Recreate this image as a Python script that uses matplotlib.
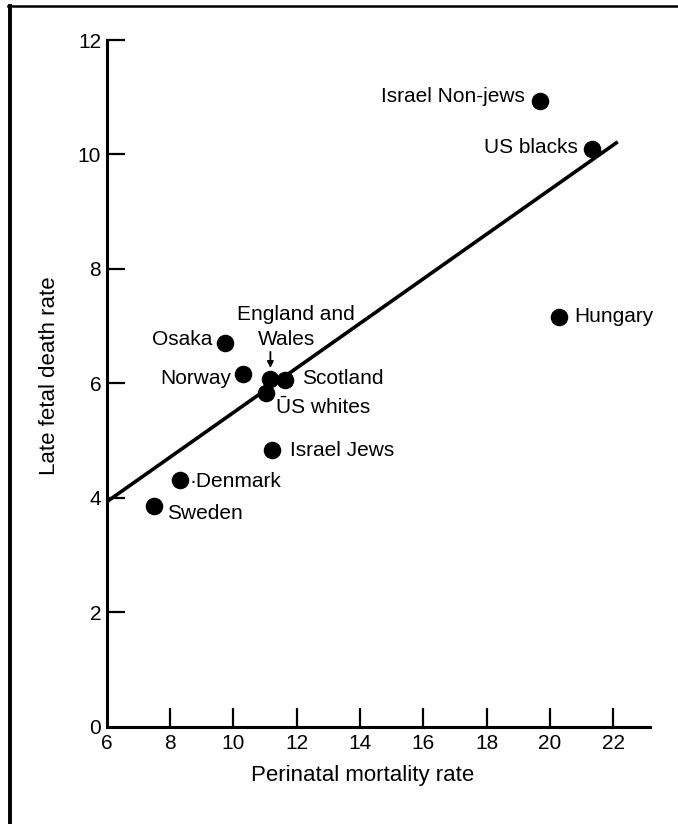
import matplotlib
matplotlib.use("Agg")
import matplotlib.pyplot as plt
from matplotlib.lines import Line2D

# ---- data ----
countries = ["Israel Non-jews", "US blacks", "Hungary", "Osaka", "Norway",
             "England and Wales", "Scotland", "US whites", "Israel Jews",
             "Denmark", "Sweden"]
perinatal = [19.68, 21.32, 20.27, 9.75, 10.30, 11.17, 11.64, 11.02, 11.23, 8.32, 7.50]
late_fetal = [10.94, 10.10, 7.16, 6.71, 6.17, 6.08, 6.06, 5.84, 4.83, 4.31, 3.86]

fit_x = [6.0, 22.14]
fit_y = [3.93, 10.22]

x_ticks = [6, 8, 10, 12, 14, 16, 18, 20, 22]
y_ticks = [0, 2, 4, 6, 8, 10, 12]

# ---- label layout ----
label_text = ["Israel Non-jews", "US blacks", "Hungary", "Osaka", "Norway",
              "England and", "Wales", "Scotland", "\u016aS whites", "Israel Jews",
              "\u00b7Denmark", "Sweden"]
label_x = [19.22, 20.87, 20.77, 9.34, 9.92, 11.99, 11.67, 12.17, 11.35, 11.79, 8.62, 7.90]
label_y = [11.01, 10.12, 7.16, 6.77, 6.08, 7.20, 6.77, 6.08, 5.57, 4.83, 4.29, 3.72]
label_ha = ["right", "right", "left", "right", "right", "center", "center",
            "left", "left", "left", "left", "left"]

plt.rcParams['font.family'] = ['Liberation Sans', 'DejaVu Sans']

W, H = 678, 824
fig = plt.figure(figsize=(W / 100, H / 100), dpi=100)
fig.patch.set_facecolor("white")

# frame lines (top and left)
fig.add_artist(Line2D([8 / W, 1.0], [1 - 6 / H, 1 - 6 / H], color="black", lw=1.8,
                      transform=fig.transFigure))
fig.add_artist(Line2D([9.5 / W, 9.5 / W], [0, 1 - 6 / H], color="black", lw=2.8,
                      transform=fig.transFigure))

left, right = 106.7 / W, 649.7 / W
bottom, top = 1 - 726.7 / H, 1 - 40 / H
ax = fig.add_axes([left, bottom, right - left, top - bottom])
ax.set_xlim(6, 23.15)
ax.set_ylim(0, 12)

for s in ["top", "right"]:
    ax.spines[s].set_visible(False)
for s in ["left", "bottom"]:
    ax.spines[s].set_linewidth(2.2)
    ax.spines[s].set_capstyle("projecting")

ax.set_xticks(x_ticks)
ax.set_yticks(y_ticks)
ax.tick_params(axis="both", direction="in", width=1.6, labelsize=15, colors="black")
ax.tick_params(axis="x", length=13.5, pad=5)
ax.tick_params(axis="y", length=13, pad=4)
# hide the tick marks at the origin
ax.xaxis.get_major_ticks()[0].tick1line.set_visible(False)
ax.yaxis.get_major_ticks()[0].tick1line.set_visible(False)

ax.plot(fit_x, fit_y, color="black", lw=2.6, solid_capstyle="butt", zorder=2, clip_on=False)
ax.scatter(perinatal, late_fetal, s=135, color="black", zorder=3, clip_on=False)

for t, x, y, ha in zip(label_text, label_x, label_y, label_ha):
    ax.text(x, y, t, ha=ha, va="center", fontsize=15, color="black")

ax.annotate("", xy=(11.17, 6.27), xytext=(11.17, 6.55),
            arrowprops=dict(arrowstyle="-|>", color="black", lw=1.3, mutation_scale=9,
                            shrinkA=0, shrinkB=0))

ax.set_xlabel("Perinatal mortality rate", fontsize=16)
ax.set_ylabel("Late fetal death rate", fontsize=16)
ax.xaxis.set_label_coords((363 - 106.7) / (649.7 - 106.7), -(775 - 726.7) / (726.7 - 40))
ax.yaxis.set_label_coords(-(106.7 - 49.5) / (649.7 - 106.7), (726.7 - 376) / (726.7 - 40))
ax.xaxis.label.set_va("center")
ax.yaxis.label.set_va("center")

fig.savefig("out.png", dpi=100)
